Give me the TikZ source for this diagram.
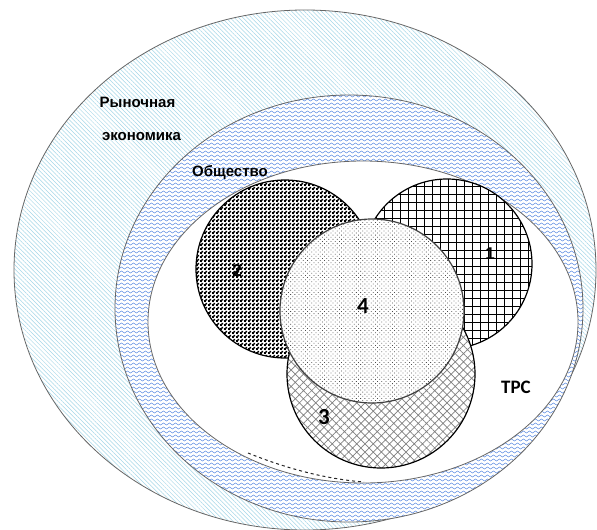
\documentclass[tikz,border=0pt]{standalone}
\usepackage{fontspec}
\setmainfont{Liberation Sans}
\newfontfamily\carlitofont{Carlito}
\usetikzlibrary{patterns,patterns.meta,shapes.geometric}
\definecolor{marketcyan}{RGB}{165,215,232}
\definecolor{societyblue}{RGB}{85,135,225}
\tikzdeclarepattern{
  name=Waves, type=uncolored,
  bounding box={(-0.5pt,0pt) and (6.5pt,4pt)},
  tile size={(6pt,4pt)},
  code={
    \tikzset{x=1pt,y=1pt}
    \draw[line width=0.5pt] (0,2) sin (1.5,3) cos (3,2) sin (4.5,1) cos (6,2);
  }
}
\tikzdeclarepattern{
  name=FineChecker, type=uncolored,
  bounding box={(0pt,0pt) and (4pt,4pt)},
  tile size={(4pt,4pt)},
  code={
    \tikzset{x=1pt,y=1pt}
    \fill (0,0) rectangle (2.3,2.3) (2,2) rectangle (4,4);
    \fill (2,0) rectangle (2.3,4) (0,2) rectangle (4,2.3);
  }
}
\begin{document}
\begin{tikzpicture}[x=1pt,y=-1pt,
  band/.style={ellipse, draw=black!60, line width=0.8pt, inner sep=0pt, preaction={fill=white}},
  disc/.style={circle, draw=black, line width=1.2pt, inner sep=0pt, preaction={fill=white}},
  lbl/.style={font=\bfseries\fontsize{15}{18}\selectfont, inner sep=0pt},
  numA/.style={font=\bfseries\fontsize{17}{20}\selectfont, inner sep=0pt},
  numB/.style={font=\carlitofont\bfseries\fontsize{23}{26}\selectfont, inner sep=0pt},
  trs/.style={font=\carlitofont\bfseries\fontsize{19}{22}\selectfont, inner sep=0pt}]
\useasboundingbox (0,0) rectangle (597,530);
\clip (0,0) rectangle (597,530);
\node[band, minimum width=582pt, minimum height=520pt,
  pattern={Lines[angle=-45,distance=3pt,line width=0.5pt]}, pattern color=marketcyan] (market) at (305,270) {};
\node[band, minimum width=468pt, minimum height=427pt,
  pattern=Waves, pattern color=societyblue] (society) at (349,308.5) {};
\node[band, minimum width=430pt, minimum height=322pt, fill=white] (trsarea) at (363,322) {};
\coordinate (d1) at (248,453);
\coordinate (d2) at (364,482);
\draw[dashed, black!85, line width=1pt] (d1) .. controls (285,468) and (325,479) .. (d2);
\node[disc, minimum size=178pt, pattern=FineChecker, pattern color=black] (c2) at (285,269) {};
\node[disc, minimum size=170pt, pattern={Hatch[angle=0,distance=8pt,line width=0.9pt]}, pattern color=black] (c1) at (447,264) {};
\node[disc, minimum size=188pt, pattern={Hatch[angle=45,distance=5.8pt,line width=0.7pt]}, pattern color=black!50] (c3) at (381,374) {};
\node[disc, minimum size=184pt, draw=black!75, pattern={Dots[distance=3pt,radius=0.55pt,angle=45]}, pattern color=black!70] (c4) at (372,311) {};
\node[lbl] (mk1) at (137.5,102) {Рыночная};
\node[lbl] (mk2) at (141.5,137) {экономика};
\node[lbl] (soc) at (230,172) {Общество};
\node[numA] (n1) at (490,254) {1};
\node[numA] (n2) at (237,271) {2};
\node[numB] (n3) at (324,417) {3};
\node[numB] (n4) at (363,306) {4};
\node[trs] (trslbl) at (516,387) {ТРС};
\end{tikzpicture}
\end{document}
